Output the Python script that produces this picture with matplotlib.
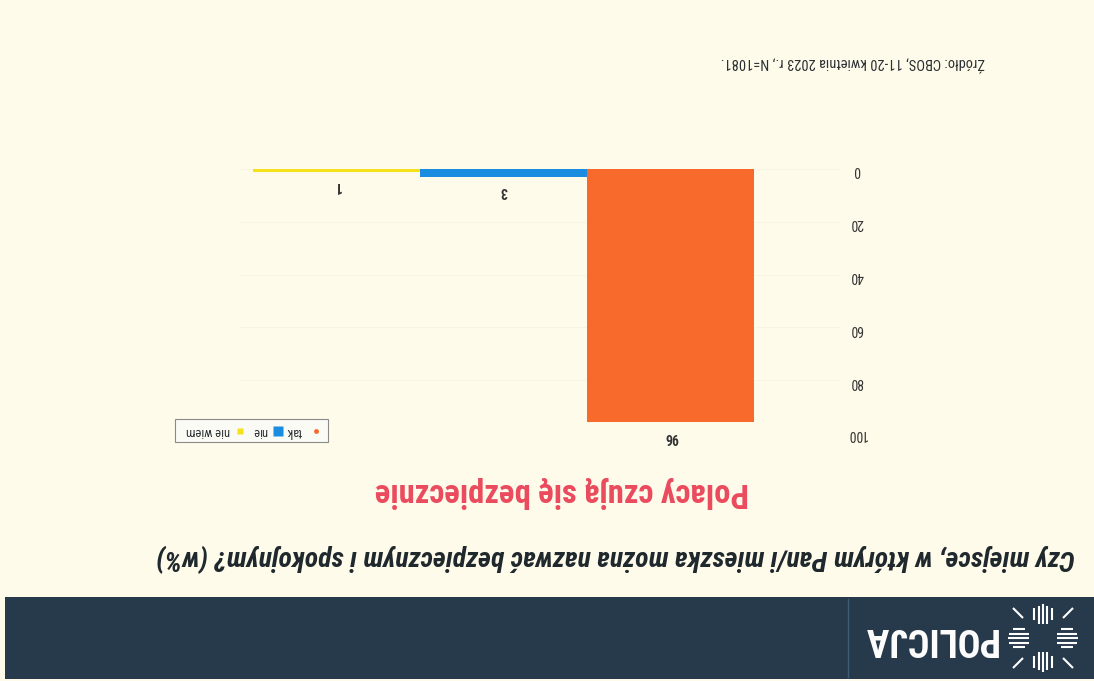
import numpy as np
import matplotlib
matplotlib.use("Agg")
import matplotlib.pyplot as plt
from matplotlib import font_manager
from matplotlib.patches import Rectangle

# the scanned slide is upside down, so everything is drawn rotated by 180 degrees
W, H = 1094, 681

categories = ["tak", "nie", "nie wiem"]
values = [96, 3, 1]
colors = ["#f76a2c", "#1b8de0", "#f6e21c"]
yticks = [0, 20, 40, 60, 80, 100]

question = "Czy miejsce, w którym Pan/i mieszka można nazwać bezpiecznym i spokojnym? (w%)"
title = "Polacy czują się bezpiecznie"
source = "Źródło: CBOS, 11-20 kwietnia 2023 r., N=1081."

names = {f.name for f in font_manager.fontManager.ttflist}
NARROW = next((n for n in ["Liberation Sans Narrow", "Roboto Condensed", "Open Sans Condensed"]
               if n in names), "DejaVu Sans")
plt.rcParams["font.family"] = [NARROW, "DejaVu Sans"]

BG = "#fefbea"
DARK = "#2a2f33"

fig = plt.figure(figsize=(W / 100, H / 100), dpi=100)
fig.patch.set_facecolor(BG)

# overlay in pixel coordinates (origin top-left)
bg = fig.add_axes([0, 0, 1, 1], zorder=0)
bg.set_xlim(0, W)
bg.set_ylim(H, 0)
bg.axis("off")

# banner with the logo
bg.add_patch(Rectangle((5, 597), W - 5, 82, facecolor="#273a4c", edgecolor="none"))
bg.plot([848, 848], [599, 677], color="#3e5b78", lw=1)

cx, cy = 1043, 638
for dx, r0, r1 in [(-9, 18, 30), (-4, 14, 32), (0, 14, 34), (4, 14, 32), (9, 18, 30)]:
    for s in (1, -1):
        bg.plot([cx + dx, cx + dx], [cy + s * r0, cy + s * r1], color="white", lw=1.5,
                solid_capstyle="butt")
for dy, r0, r1 in [(-9, 18, 30), (-4.5, 14, 34), (0, 14, 35), (4.5, 14, 34), (9, 18, 30)]:
    for s in (1, -1):
        bg.plot([cx + s * r0, cx + s * r1], [cy + dy, cy + dy], color="white", lw=1.5,
                solid_capstyle="butt")
for sx in (1, -1):
    for sy in (1, -1):
        bg.plot([cx + sx * 20, cx + sx * 30], [cy + sy * 20, cy + sy * 30], color="white",
                lw=1.5, solid_capstyle="butt")

renderer = fig.canvas.get_renderer()


def fit(t, width):
    bb = t.get_window_extent(renderer)
    t.set_fontsize(t.get_fontsize() * width / bb.width)


t = bg.text(997, 638, "POLICJA", rotation=180, ha="right", va="center", color="white",
            fontsize=16, fontweight="bold")
fit(t, 135)

t = bg.text(1075, 557, question, rotation=180, ha="right", va="center", color="#1e272c",
            fontsize=14, fontweight="bold", fontstyle="italic")
fit(t, 922)

t = bg.text(562, 492, title, rotation=180, ha="center", va="center", color="#ea4a5d",
            fontsize=22, fontweight="bold")
fit(t, 375)

t = bg.text(985, 62, source, rotation=180, ha="right", va="center", color=DARK, fontsize=8)
fit(t, 265)

# legend drawn by hand, rotated like the rest
bg.add_patch(Rectangle((175, 419), 153, 23, facecolor="#fbfbf6", edgecolor="#8a8a8a", lw=0.8))
bg.plot([316], [431], marker="o", ms=3.5, color=colors[0], mec="none")
bg.text(294, 431, categories[0], rotation=180, ha="center", va="center", fontsize=9, color=DARK)
bg.plot([278], [431], marker="s", ms=7.5, color=colors[1], mec="none")
bg.text(260, 431, categories[1], rotation=180, ha="center", va="center", fontsize=9, color=DARK)
bg.plot([240], [431], marker="s", ms=4.5, color=colors[2], mec="none")
bg.text(208, 431, categories[2], rotation=180, ha="center", va="center", fontsize=9, color=DARK)

# the chart itself
L, R, TOP, BOT = 240, 840, 169, 433
ax = fig.add_axes([L / W, 1 - BOT / H, (R - L) / W, (BOT - TOP) / H], zorder=1)
ax.patch.set_alpha(0)
xpos = np.arange(len(categories))
ax.bar(xpos, values, width=1.0, color=colors, zorder=2)
step = 167
ax.set_xlim((671 - L) / step, (671 - R) / step)
ax.set_ylim(100, 0)
for x, v in zip(xpos, values):
    ax.text(x, v + 5.5, str(v), rotation=180, ha="center", va="center", fontsize=10,
            color="#333333", fontweight="bold")

ax.set_xticks([])
ax.yaxis.tick_right()
ax.set_yticks(yticks)
ax.tick_params(axis="y", length=0, pad=12, labelsize=10, labelcolor="#333333", labelrotation=180)
for lbl in ax.get_yticklabels():
    lbl.set_ha("center")
ax.yaxis.grid(True, color="#f7f3e1", lw=0.6, zorder=0)
for sp in ax.spines.values():
    sp.set_visible(False)

fig.savefig("out.png", dpi=100, facecolor=BG)
